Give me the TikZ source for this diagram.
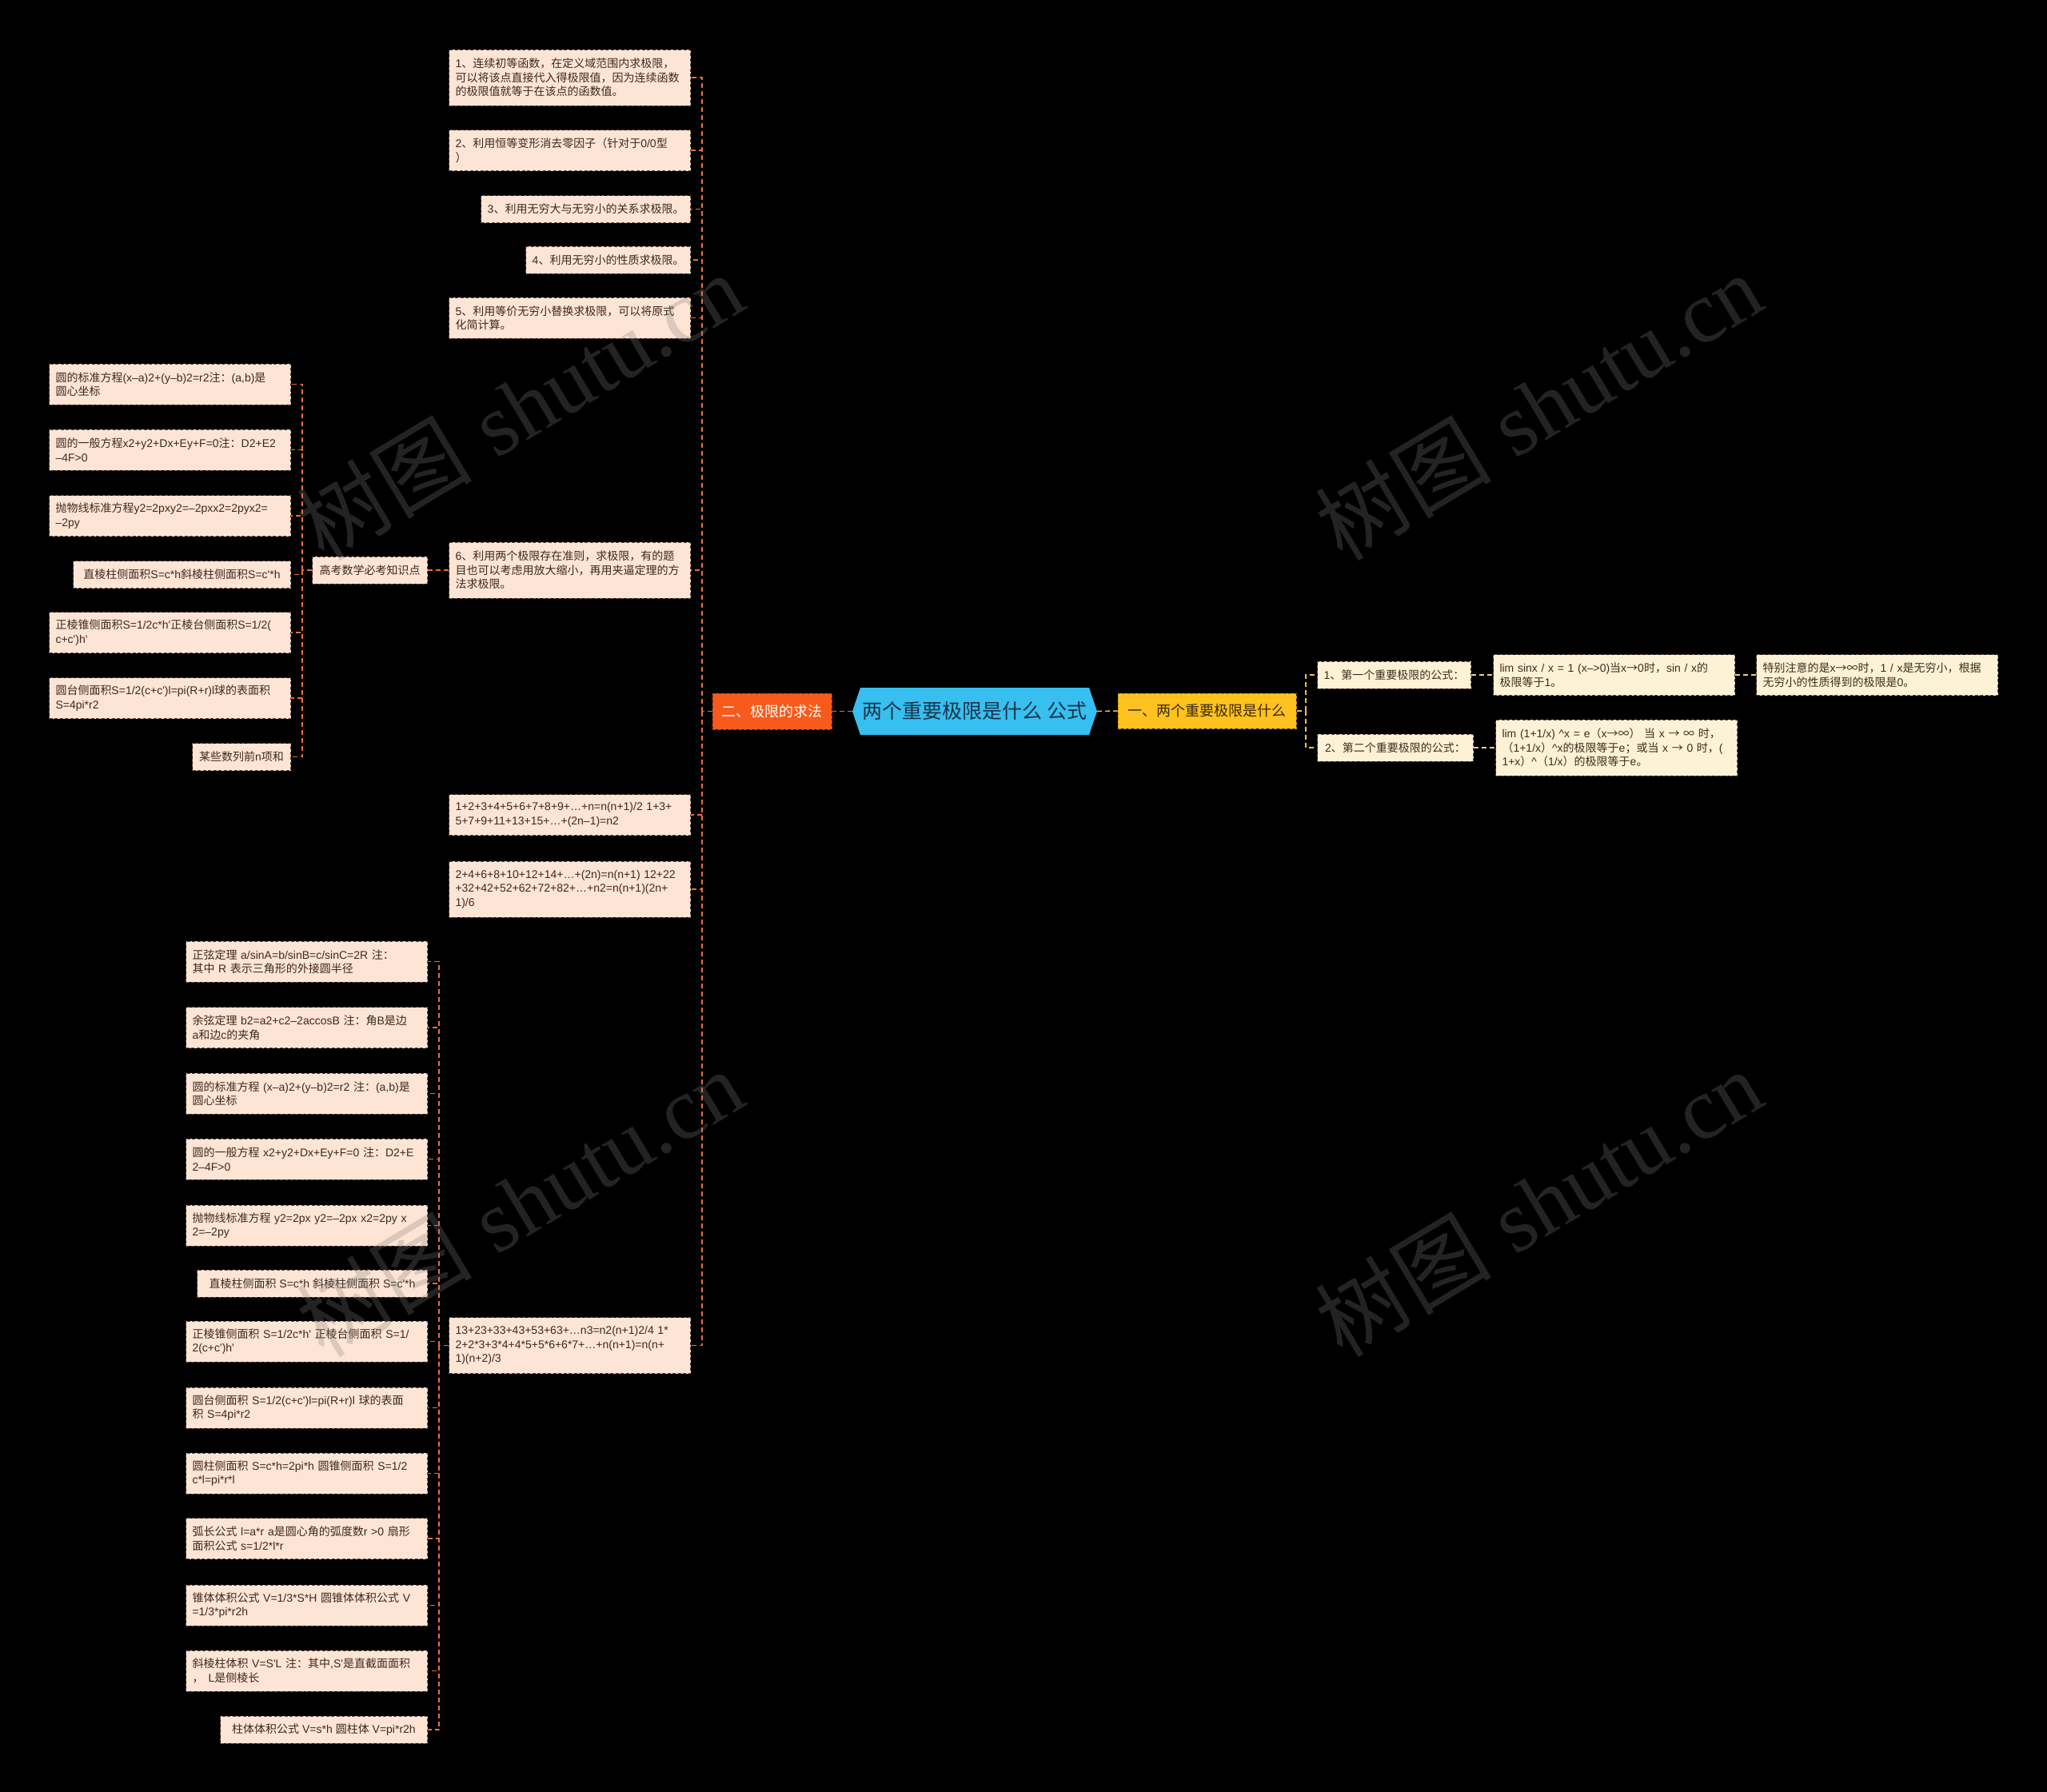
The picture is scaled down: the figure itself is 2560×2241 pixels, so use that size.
\documentclass[tikz,border=0pt]{standalone}
\usepackage{fontspec}
\newfontfamily\cjk{Noto Sans CJK SC}
\newfontfamily\lat{Liberation Sans}
\newfontfamily\wmserif{Liberation Serif}
\XeTeXinterchartokenstate=1
\newXeTeXintercharclass\CJKcls
\count255="2E80
\loop
  \XeTeXcharclass\count255=\CJKcls
  \advance\count255 by 1
\ifnum\count255<"A000 \repeat
\count255="FF00
\loop
  \XeTeXcharclass\count255=\CJKcls
  \advance\count255 by 1
\ifnum\count255<"FFF0 \repeat
\XeTeXcharclass"2192=\CJKcls
\XeTeXcharclass"221E=\CJKcls
\XeTeXinterchartoks 0 \CJKcls={\cjk}
\XeTeXinterchartoks 4095 \CJKcls={\cjk}
\XeTeXinterchartoks \CJKcls 0={\lat}
\XeTeXinterchartoks \CJKcls 4095={\lat}
\usetikzlibrary{calc}
\definecolor{peach}{HTML}{FDE4D4}
\definecolor{peachborder}{HTML}{5E4A3E}
\definecolor{leaftext}{HTML}{3A2A20}
\definecolor{orangeline}{HTML}{E8703C}
\definecolor{erfill}{HTML}{F65A1C}
\definecolor{erborder}{HTML}{B83E12}
\definecolor{rootfill}{HTML}{36BFEF}
\definecolor{roottext}{HTML}{1C3248}
\definecolor{yifill}{HTML}{FFC21E}
\definecolor{yiborder}{HTML}{B88A10}
\definecolor{yitext}{HTML}{3A2A10}
\definecolor{yiline}{HTML}{F2C242}
\definecolor{cream}{HTML}{FEF2D6}
\definecolor{creamtext}{HTML}{3A2E1E}
\definecolor{creamline}{HTML}{EFC98A}
\definecolor{wmgray}{HTML}{808080}
\newcommand\fsml{\lat\fontsize{14}{17.5}\selectfont}
\newcommand\fmidl{\lat\fontsize{18}{22}\selectfont}
\newcommand\fbigl{\lat\fontsize{25}{30}\selectfont}
\tikzset{
  leafbase/.style={rectangle, draw=peachborder, line width=1pt, dash pattern=on 4pt off 2.5pt,
    font=\fsml, inner xsep=8pt, inner ysep=6pt, align=left},
  leaf/.style={leafbase, fill=peach, text=leaftext, anchor=east},
  rleaf/.style={leafbase, fill=cream, text=creamtext, anchor=west},
  wide/.style={text width=286pt},
  one/.style={minimum height=34pt},
  two/.style={minimum height=51pt},
  three/.style={minimum height=70pt},
  conn/.style={draw=orangeline, line width=1.5pt, dash pattern=on 6pt off 4pt},
  yconn/.style={draw=yiline, line width=1.5pt, dash pattern=on 6pt off 4pt},
  cconn/.style={draw=creamline, line width=1.5pt, dash pattern=on 6pt off 4pt},
  wmark/.style={text=wmgray, opacity=0.28, rotate=31, inner sep=0pt},
}
\begin{document}
\begin{tikzpicture}[x=1pt,y=-1pt]
\useasboundingbox (0,0) rectangle (2560,2241);
\fill[black] (0,0) rectangle (2560,2241);

% root hexagon
\fill[rootfill] (1066,889.5) -- (1076,860) -- (1362,860) -- (1372,889.5) -- (1362,919) -- (1076,919) -- cycle;
\node[font=\fbigl, text=roottext, minimum width=306pt, minimum height=59pt, inner sep=0pt] (root) at (1219,889.5) {两个重要极限是什么 公式};

\node[draw=erborder, dash pattern=on 4pt off 2.5pt, line width=1pt, fill=erfill, text=white, font=\fmidl,
  minimum width=149pt, minimum height=45pt, inner sep=0pt] (er) at (965.5,889.5) {二、极限的求法};
\node[draw=yiborder, dash pattern=on 4pt off 2.5pt, line width=1pt, fill=yifill, text=yitext, font=\fmidl,
  minimum width=223pt, minimum height=44pt, inner sep=0pt] (yi) at (1509.5,889) {一、两个重要极限是什么};

% right side
\node[rleaf, one, minimum width=192pt] (r1) at (1647,844) {1、第一个重要极限的公式：};
\node[rleaf, wide, two] (r1a) at (1867,844) {lim sinx / x = 1 (x–>0)当x→0时，sin / x的\\极限等于1。};
\node[rleaf, wide, two] (r1b) at (2196,844) {特别注意的是x→∞时，1 / x是无穷小，根据\\无穷小的性质得到的极限是0。};
\node[rleaf, one, minimum width=195pt] (r2) at (1647,935) {2、第二个重要极限的公式：};
\node[rleaf, wide, three] (r2a) at (1870,935) {lim (1+1/x) \^{}x = e（x→∞） 当 x → ∞ 时，\\（1+1/x）\^{}x的极限等于e；或当 x → 0 时，(\\1+x）\^{}（1/x）的极限等于e。};

% left main children
\node[leaf, wide, three] (c1) at (864,97) {1、连续初等函数，在定义域范围内求极限，\\可以将该点直接代入得极限值，因为连续函数\\的极限值就等于在该点的函数值。};
\node[leaf, wide, two] (c2) at (864,188) {2、利用恒等变形消去零因子（针对于0/0型\\）};
\node[leaf, one] (c3) at (864,261.5) {3、利用无穷大与无穷小的关系求极限。};
\node[leaf, one] (c4) at (864,325) {4、利用无穷小的性质求极限。};
\node[leaf, wide, two] (c5) at (864,397.5) {5、利用等价无穷小替换求极限，可以将原式\\化简计算。};
\node[leaf, wide, three] (c6) at (864,713) {6、利用两个极限存在准则，求极限，有的题\\目也可以考虑用放大缩小，再用夹逼定理的方\\法求极限。};
\node[leaf, wide, two] (c7) at (864,1019) {1+2+3+4+5+6+7+8+9+…+n=n(n+1)/2 1+3+\\5+7+9+11+13+15+…+(2n–1)=n2};
\node[leaf, wide, three] (c8) at (864,1112) {2+4+6+8+10+12+14+…+(2n)=n(n+1) 12+22\\+32+42+52+62+72+82+…+n2=n(n+1)(2n+\\1)/6};
\node[leaf, wide, three] (c9) at (864,1682.5) {13+23+33+43+53+63+…n3=n2(n+1)2/4 1*\\2+2*3+3*4+4*5+5*6+6*7+…+n(n+1)=n(n+\\1)(n+2)/3};

% upper-left group
\node[leaf, one, minimum width=144pt] (gk) at (535,713) {高考数学必考知识点};
\node[leaf, wide, two] (g1) at (364,480.5) {圆的标准方程(x–a)2+(y–b)2=r2注：(a,b)是\\圆心坐标};
\node[leaf, wide, two] (g2) at (364,562.5) {圆的一般方程x2+y2+Dx+Ey+F=0注：D2+E2\\–4F>0};
\node[leaf, wide, two] (g3) at (364,645) {抛物线标准方程y2=2pxy2=–2pxx2=2pyx2=\\–2py};
\node[leaf, one, minimum width=272pt] (g4) at (364,718.5) {直棱柱侧面积S=c*h斜棱柱侧面积S=c'*h};
\node[leaf, wide, two] (g5) at (364,791) {正棱锥侧面积S=1/2c*h'正棱台侧面积S=1/2(\\c+c')h'};
\node[leaf, wide, two] (g6) at (364,873) {圆台侧面积S=1/2(c+c')l=pi(R+r)l球的表面积\\S=4pi*r2};
\node[leaf, one, minimum width=123pt] (g7) at (364,946.5) {某些数列前n项和};

% lower-left group
\node[leaf, wide, two] (h1) at (535,1202.5) {正弦定理 a/sinA=b/sinB=c/sinC=2R 注：\\其中 R 表示三角形的外接圆半径};
\node[leaf, wide, two] (h2) at (535,1285) {余弦定理 b2=a2+c2–2accosB 注：角B是边\\a和边c的夹角};
\node[leaf, wide, two] (h3) at (535,1367.5) {圆的标准方程 (x–a)2+(y–b)2=r2 注：(a,b)是\\圆心坐标};
\node[leaf, wide, two] (h4) at (535,1449.5) {圆的一般方程 x2+y2+Dx+Ey+F=0 注：D2+E\\2–4F>0};
\node[leaf, wide, two] (h5) at (535,1532.5) {抛物线标准方程 y2=2px y2=–2px x2=2py x\\2=–2py};
\node[leaf, one, minimum width=288pt] (h6) at (535,1605) {直棱柱侧面积 S=c*h 斜棱柱侧面积 S=c'*h};
\node[leaf, wide, two] (h7) at (535,1677.5) {正棱锥侧面积 S=1/2c*h' 正棱台侧面积 S=1/\\2(c+c')h'};
\node[leaf, wide, two] (h8) at (535,1760.5) {圆台侧面积 S=1/2(c+c')l=pi(R+r)l 球的表面\\积 S=4pi*r2};
\node[leaf, wide, two] (h9) at (535,1842.5) {圆柱侧面积 S=c*h=2pi*h 圆锥侧面积 S=1/2\\*c*l=pi*r*l};
\node[leaf, wide, two] (h10) at (535,1924) {弧长公式 l=a*r a是圆心角的弧度数r >0 扇形\\面积公式 s=1/2*l*r};
\node[leaf, wide, two] (h11) at (535,2007.5) {锥体体积公式 V=1/3*S*H 圆锥体体积公式 V\\=1/3*pi*r2h};
\node[leaf, wide, two] (h12) at (535,2089.5) {斜棱柱体积 V=S'L 注：其中,S'是直截面面积\\，\hspace{6pt}L是侧棱长};
\node[leaf, one, minimum width=259pt] (h13) at (535,2163) {柱体体积公式 V=s*h 圆柱体 V=pi*r2h};

% connectors: left main
\coordinate (sp) at (878,889.5);
\draw[conn] (root.west) -- (er.east);
\draw[conn] (er.west) -- (sp);
\foreach \n in {c1,c2,c3,c4,c5,c6,c7,c8,c9} \draw[conn] (sp) |- (\n.east);

% upper-left group
\coordinate (gsp) at (378,713);
\draw[conn] (c6.west) -- (gk.east);
\draw[conn] (gk.west) -- (gsp);
\foreach \n in {g1,g2,g3,g4,g5,g6,g7} \draw[conn] (gsp) |- (\n.east);

% lower-left group
\coordinate (hsp) at (549,1682.5);
\draw[conn] (c9.west) -- (hsp);
\foreach \n in {h1,h2,h3,h4,h5,h6,h7,h8,h9,h10,h11,h12,h13} \draw[conn] (hsp) |- (\n.east);

% right side
\coordinate (rsp) at (1633,889);
\draw[yconn] (root.east) -- (yi.west);
\draw[yconn] (yi.east) -- (rsp);
\draw[yconn] (rsp) |- (r1.west);
\draw[yconn] (rsp) |- (r2.west);
\draw[cconn] (r1.east) -- (r1a.west);
\draw[cconn] (r1a.east) -- (r1b.west);
\draw[cconn] (r2.east) -- (r2a.west);

% watermarks
\node[wmark] (wm1) at (650,508) {\cjk\fontsize{110}{120}\selectfont 树图 \wmserif shutu.cn};
\node[wmark] (wm2) at (1924,508) {\cjk\fontsize{110}{120}\selectfont 树图 \wmserif shutu.cn};
\node[wmark] (wm3) at (650,1504) {\cjk\fontsize{110}{120}\selectfont 树图 \wmserif shutu.cn};
\node[wmark] (wm4) at (1924,1504) {\cjk\fontsize{110}{120}\selectfont 树图 \wmserif shutu.cn};
\end{tikzpicture}
\end{document}
